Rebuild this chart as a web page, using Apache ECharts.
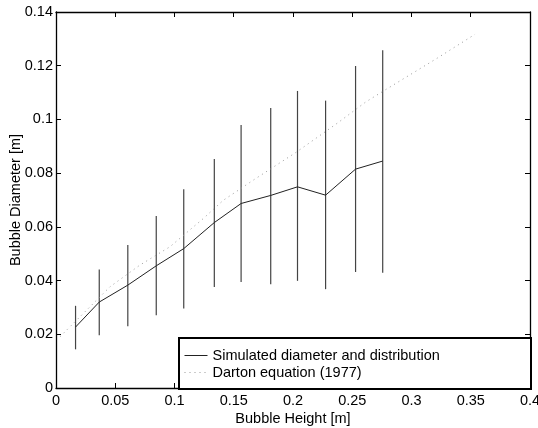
<!DOCTYPE html>
<html>
<head>
<meta charset="utf-8">
<script src="https://cdn.jsdelivr.net/npm/echarts@6/dist/echarts.min.js"></script>
<style>
  html, body { margin: 0; padding: 0; background: #fff; }
  #chart { width: 538px; height: 428px; }
</style>
</head>
<body>
<div id="chart"></div>
<script>
// Simulated bubble data
const heights   = [0.0165, 0.0365, 0.0606, 0.0846, 0.1078, 0.1336, 0.1562, 0.1812, 0.2038, 0.2275, 0.2528, 0.2757];
const meanDiam  = [0.0227, 0.0320, 0.0383, 0.0455, 0.0519, 0.0616, 0.0687, 0.0717, 0.0749, 0.0718, 0.0815, 0.0845];
const highDiam  = [0.0306, 0.0441, 0.0532, 0.0640, 0.0740, 0.0853, 0.0979, 0.1043, 0.1106, 0.1070, 0.1199, 0.1258];
const lowDiam   = [0.0144, 0.0196, 0.0230, 0.0271, 0.0296, 0.0376, 0.0395, 0.0386, 0.0399, 0.0368, 0.0432, 0.0429];

// Darton equation (1977) curve
const dartonH = [0.0034, 0.0456, 0.0709, 0.0962, 0.1243, 0.1412, 0.1665, 0.2031, 0.2377, 0.2614, 0.2760, 0.3213, 0.3536];
const dartonD = [0.0191, 0.0377, 0.0458, 0.0526, 0.0631, 0.0699, 0.0774, 0.0879, 0.0987, 0.1065, 0.1105, 0.1227, 0.1317];

const seriesNames = ['Simulated diameter and distribution', 'Darton equation (1977)'];
const xTitle = 'Bubble Height [m]';
const yTitle = 'Bubble Diameter [m]';

const FONT = 'Liberation Sans';
const FS = 14.5;

const meanData = heights.map((h, i) => [h, meanDiam[i]]);
const barData = heights.map((h, i) => [h, lowDiam[i], highDiam[i]]);
const dartonData = dartonH.map((h, i) => [h, dartonD[i]]);

const chart = echarts.init(document.getElementById('chart'), null, { renderer: 'canvas' });

const axisCommon = {
  type: 'value',
  splitLine: { show: false },
  axisLine: { show: true, onZero: false, lineStyle: { color: '#000', width: 1.3 } },
  axisTick: { show: true, inside: true, length: 5, lineStyle: { color: '#000', width: 1 } },
};

chart.setOption({
  animation: false,
  backgroundColor: '#fff',
  textStyle: { fontFamily: FONT },
  grid: { left: 56, right: 8, top: 12, bottom: 40, containLabel: false, outerBoundsMode: 'none' },
  xAxis: [
    Object.assign({}, axisCommon, {
      position: 'bottom', min: 0, max: 0.4, interval: 0.05,
      name: xTitle, nameLocation: 'middle', nameGap: 23, nameMoveOverlap: false,
      nameTextStyle: { fontFamily: FONT, fontSize: FS, color: '#000' },
      axisLabel: { show: true, margin: 5, fontFamily: FONT, fontSize: FS, color: '#000',
                   formatter: v => String(+v.toFixed(2)) }
    }),
    Object.assign({}, axisCommon, {
      position: 'top', min: 0, max: 0.4, interval: 0.05,
      axisLabel: { show: false }
    })
  ],
  yAxis: [
    Object.assign({}, axisCommon, {
      position: 'left', min: 0, max: 0.14, interval: 0.02,
      name: yTitle, nameLocation: 'middle', nameGap: 33, nameMoveOverlap: false,
      nameTextStyle: { fontFamily: FONT, fontSize: FS, color: '#000' },
      axisLabel: { show: true, margin: 3, fontFamily: FONT, fontSize: FS, color: '#000',
                   formatter: v => String(+v.toFixed(2)) }
    }),
    Object.assign({}, axisCommon, {
      position: 'right', min: 0, max: 0.14, interval: 0.02,
      axisLabel: { show: false }
    })
  ],
  legend: {
    show: true,
    data: seriesNames,
    orient: 'vertical',
    left: 184,
    top: 348,
    padding: 0,
    itemWidth: 23,
    itemHeight: 14,
    itemGap: 2,
    z: 20,
    itemStyle: { opacity: 0 },
    lineStyle: { width: 1 },
    textStyle: { fontFamily: FONT, fontSize: FS, color: '#000', padding: [0, 0, 0, 0] }
  },
  graphic: [{
    type: 'rect',
    left: 178, top: 337,
    z: 10,
    shape: { width: 352, height: 51 },
    style: { fill: '#fff', stroke: '#000', lineWidth: 2 }
  }],
  series: [
    {
      name: 'bars',
      type: 'custom',
      xAxisIndex: 0, yAxisIndex: 0,
      data: barData,
      encode: { x: 0, y: [1, 2] },
      renderItem: function (params, api) {
        const p1 = api.coord([api.value(0), api.value(1)]);
        const p2 = api.coord([api.value(0), api.value(2)]);
        return {
          type: 'line',
          shape: { x1: p1[0], y1: p1[1], x2: p2[0], y2: p2[1] },
          style: { stroke: '#444', lineWidth: 1.2 }
        };
      },
      z: 2
    },
    {
      name: seriesNames[0],
      type: 'line',
      data: meanData,
      symbol: 'none',
      showSymbol: false,
      lineStyle: { color: '#222', width: 1 },
      itemStyle: { color: '#222' },
      z: 3
    },
    {
      name: seriesNames[1],
      type: 'line',
      data: dartonData,
      symbol: 'none',
      showSymbol: false,
      smooth: false,
      lineStyle: { color: '#999', width: 1, type: [1, 4] },
      itemStyle: { color: '#999' },
      z: 3
    }
  ]
});
</script>
</body>
</html>
